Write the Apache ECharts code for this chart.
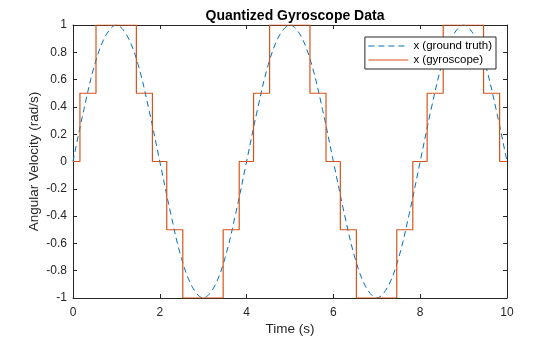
<!DOCTYPE html>
<html>
<head>
<meta charset="utf-8">
<script src="https://cdn.jsdelivr.net/npm/echarts@6/dist/echarts.min.js"></script>
<style>html,body{margin:0;padding:0;background:#fff;}#c{width:560px;height:337px;}</style>
</head>
<body>
<div id="c"></div>
<script>
// Ground truth samples (time, value)
var truthTime = [0,0.25,0.5,0.75,1,1.25,1.5,1.75,2,2.25,2.5,2.75,3,3.25,3.5,3.75,4,4.25,4.5,4.75,5,5.25,5.5,5.75,6,6.25,6.5,6.75,7,7.25,7.5,7.75,8,8.25,8.5,8.75,9,9.25,9.5,9.75,10];
var truthValue = [0,0.38,0.71,0.92,1,0.92,0.71,0.38,0,-0.38,-0.71,-0.92,-1,-0.92,-0.71,-0.38,0,0.38,0.71,0.92,1,0.92,0.71,0.38,0,-0.38,-0.71,-0.92,-1,-0.92,-0.71,-0.38,0,0.38,0.71,0.92,1,0.92,0.71,0.38,0];
// Quantized gyroscope steps: change times and levels
var gyroTime = [0,0.16,0.53,1.46,1.83,2.16,2.53,3.46,3.83,4.16,4.53,5.46,5.83,6.16,6.53,7.46,7.83,8.16,8.53,9.46,9.83,10];
var gyroValue = [0,0.5,1,0.5,0,-0.5,-1,-0.5,0,0.5,1,0.5,0,-0.5,-1,-0.5,0,0.5,1,0.5,0,0];
var xTicks = [0,2,4,6,8,10];
var yTicks = [-1,-0.8,-0.6,-0.4,-0.2,0,0.2,0.4,0.6,0.8,1];

var truthData = truthTime.map(function(t,i){return [t, truthValue[i]];});
var gyroData = gyroTime.map(function(t,i){return [t, gyroValue[i]];});

var axisCol = '#262626';
var blue = '#0072BD', orange = '#D95319';
var font = 'Liberation Sans, Arial, Helvetica, sans-serif';
var chart = echarts.init(document.getElementById('c'), null, {renderer:'canvas'});
var baseX = {type:'value', min:0, max:10, interval:2,
  axisLine:{show:true, onZero:false, lineStyle:{color:axisCol, width:1}},
  axisTick:{show:true, inside:true, length:4, lineStyle:{color:axisCol}},
  splitLine:{show:false}};
var baseY = {type:'value', min:-1, max:1, interval:0.2,
  axisLine:{show:true, onZero:false, lineStyle:{color:axisCol, width:1}},
  axisTick:{show:true, inside:true, length:4, lineStyle:{color:axisCol}},
  splitLine:{show:false}};
chart.setOption({
  animation:false,
  backgroundColor:'#fff',
  title:{text:'Quantized Gyroscope Data', left:290, top:4, textAlign:'center',
    textStyle:{fontFamily:font, fontSize:14, fontWeight:'bold', color:'#000'}},
  grid:{left:73, right:53, top:25, bottom:39, outerBoundsMode:'none', containLabel:false},
  legend:{right:64, top:37, orient:'vertical', itemGap:2, itemWidth:40, itemHeight:10,
    padding:[3,4,3,3], borderColor:axisCol, borderWidth:1, borderRadius:0, backgroundColor:'#fff',
    itemStyle:{opacity:0},
    textStyle:{fontFamily:font, fontSize:11.5, color:'#000'},
    data:[{name:'x (ground truth)', lineStyle:{color:blue, width:1, type:[6,4]}},
          {name:'x (gyroscope)', lineStyle:{color:orange, width:1, type:'solid'}}]},
  xAxis:[
    Object.assign({}, baseX, {position:'bottom', name:'Time (s)', nameLocation:'middle', nameGap:24, nameMoveOverlap:false,
      nameTextStyle:{fontFamily:font, fontSize:13.5, color:axisCol},
      axisLabel:{fontFamily:font, fontSize:12, color:axisCol, margin:9}}),
    Object.assign({}, baseX, {position:'top', axisLabel:{show:false}})
  ],
  yAxis:[
    Object.assign({}, baseY, {position:'left', name:'Angular Velocity (rad/s)', nameLocation:'middle', nameGap:32, nameMoveOverlap:false,
      nameTextStyle:{fontFamily:font, fontSize:13.5, color:axisCol},
      axisLabel:{fontFamily:font, fontSize:12, color:axisCol, margin:6,
        formatter:function(v){return String(Math.round(v*10)/10);}}}),
    Object.assign({}, baseY, {position:'right', axisLabel:{show:false}})
  ],
  series:[
    {name:'x (ground truth)', type:'line', data:truthData, smooth:0.35, symbol:'none',
      lineStyle:{color:blue, width:1, type:[6,4]}, itemStyle:{color:blue}, z:2},
    {name:'x (gyroscope)', type:'line', data:gyroData, step:'end', symbol:'none',
      lineStyle:{color:orange, width:1.2}, itemStyle:{color:orange}, z:3}
  ]
});
</script>
</body>
</html>
